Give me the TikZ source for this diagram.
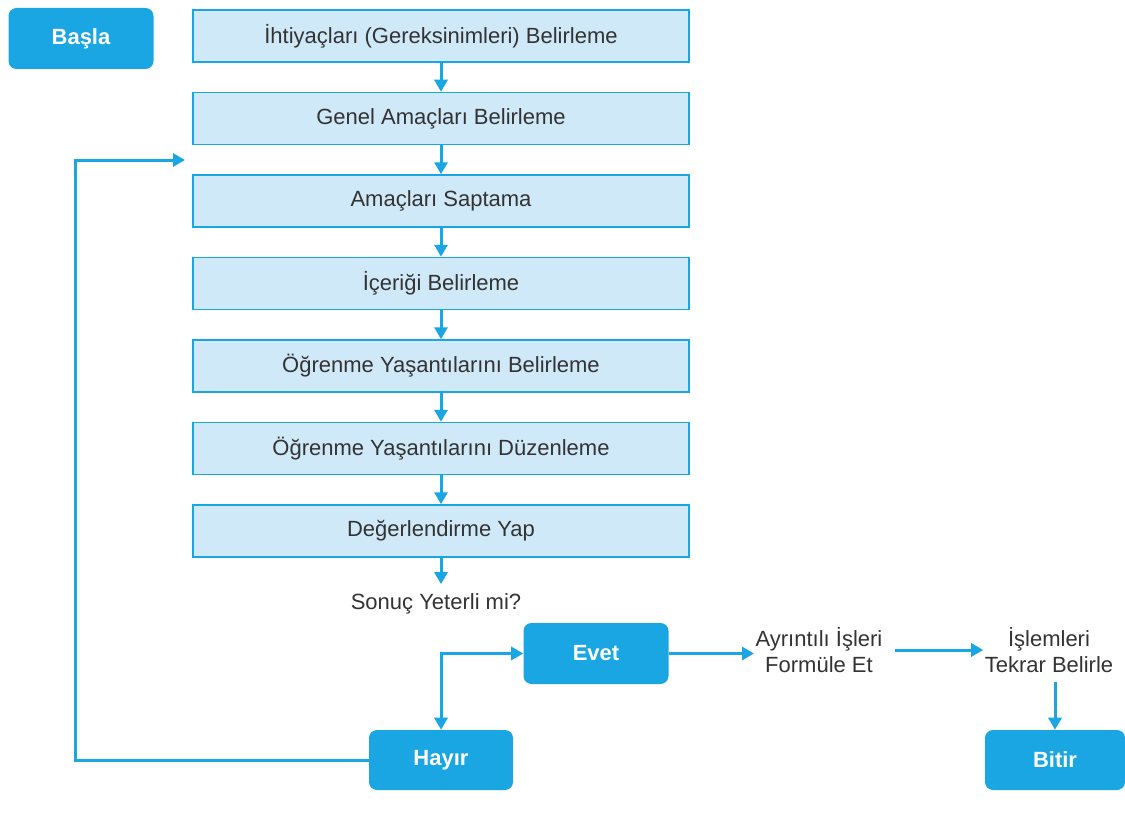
\documentclass[tikz,border=0pt]{standalone}
\usepackage{fontspec}
\setmainfont{Liberation Sans}
\usetikzlibrary{arrows.meta}
\newlength{\du}
\setlength{\du}{0.75pt}
\newcommand{\flowfont}{\fontsize{16.5}{19}\selectfont}
\definecolor{dialineblue}{rgb}{0.100000, 0.650000, 0.890000}
\definecolor{dialinefill}{rgb}{0.810000, 0.915000, 0.975000}
\definecolor{dialinetext}{rgb}{0.200000, 0.200000, 0.200000}
\tikzset{
  stepbox/.style={draw=dialineblue, fill=dialinefill, line width=1.5\du,
    minimum width=496\du, minimum height=52\du, inner sep=0pt, text=dialinetext},
  termbox/.style={fill=dialineblue, rounded corners=8\du, minimum width=145\du,
    minimum height=61\du, inner sep=0pt, text=white, font=\flowfont\bfseries},
  plaintext/.style={text=dialinetext, align=center, inner sep=1pt},
  flow/.style={draw=dialineblue, line width=3\du, -{Triangle[length=9pt,width=9.75pt]}},
  twoway/.style={draw=dialineblue, line width=3\du,
    {Triangle[length=9pt,width=9.75pt]}-{Triangle[length=9pt,width=9.75pt]}}
}

\begin{document}
\begin{tikzpicture}[font=\flowfont]
\pgftransformxscale{1.000000}
\pgftransformyscale{-1.000000}
\useasboundingbox (0\du,0\du) rectangle (1125\du,824\du);
% start
\node[termbox] (basla) at (81\du,38.5\du){Başla};
% steps of the program
\node[stepbox] (s1) at (441\du,36\du){İhtiyaçları (Gereksinimleri) Belirleme};
\node[stepbox] (s2) at (441\du,118.5\du){Genel Amaçları Belirleme};
\node[stepbox] (s3) at (441\du,201\du){Amaçları Saptama};
\node[stepbox] (s4) at (441\du,283.5\du){İçeriği Belirleme};
\node[stepbox] (s5) at (441\du,366\du){Öğrenme Yaşantılarını Belirleme};
\node[stepbox] (s6) at (441\du,448.5\du){Öğrenme Yaşantılarını Düzenleme};
\node[stepbox] (s7) at (441\du,531\du){Değerlendirme Yap};
\foreach \a/\b in {s1/s2,s2/s3,s3/s4,s4/s5,s5/s6,s6/s7}
  \draw[flow] (\a) -- (\b);
% decision
\node[plaintext] (sonuc) at (436\du,604\du){Sonuç Yeterli mi?};
\draw[flow, shorten >=8\du] (s7.south) -- (s7.south |- sonuc.north);
\node[termbox] (evet) at (596\du,653.5\du){Evet};
\node[termbox, minimum width=144\du, minimum height=60\du] (hayir) at (441\du,760\du){Hayır};
\draw[twoway] (evet.west) -| (hayir.north);
% back to the aims
\coordinate (geri) at (185\du,160\du);
\draw[flow] (hayir.west) -| (75\du,160\du) -- (geri);
% yes branch
\node[plaintext] (formule) at (819\du,650\du){Ayrıntılı İşleri\\Formüle Et};
\node[plaintext] (tekrar) at (1049\du,650\du){İşlemleri\\Tekrar Belirle};
\node[termbox, minimum width=140\du, minimum height=60\du] (bitir) at (1055\du,760\du){Bitir};
\draw[flow] (evet.east) -- (evet.east -| formule.west);
\draw[flow] ([xshift=11\du]formule.east) -- (tekrar.west |- formule.east);
\draw[flow, shorten <=8\du] (tekrar.south -| bitir.north) -- (bitir.north);
\end{tikzpicture}
\end{document}
